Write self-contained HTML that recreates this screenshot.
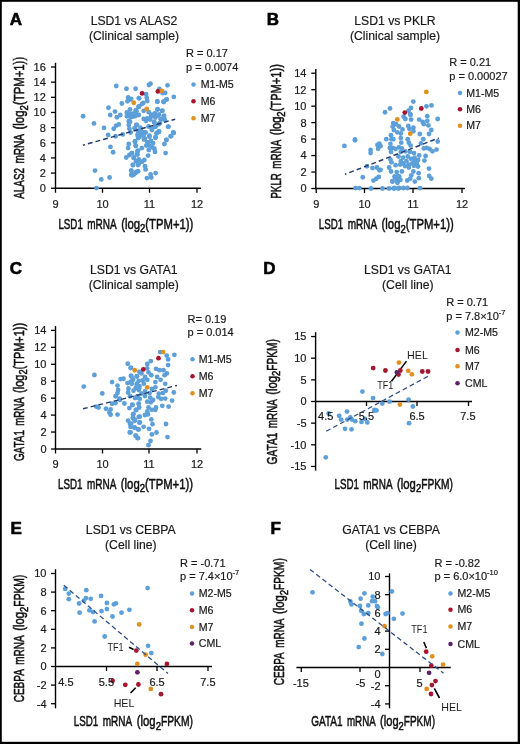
<!DOCTYPE html>
<html><head><meta charset="utf-8"><style>
html,body{margin:0;padding:0;background:#fff;}
svg{display:block;will-change:transform;}
text{font-family:"Liberation Sans", sans-serif;}
</style></head><body>
<svg width="520" height="744" viewBox="0 0 520 744">
<rect x="0" y="0" width="520" height="744" fill="#fff"/>
<line x1="55.50" y1="62.80" x2="55.50" y2="188.85" stroke="#000" stroke-width="1.4"/>
<line x1="51.00" y1="188.25" x2="55.50" y2="188.25" stroke="#000" stroke-width="1.3"/>
<line x1="51.00" y1="173.09" x2="55.50" y2="173.09" stroke="#000" stroke-width="1.3"/>
<line x1="51.00" y1="157.94" x2="55.50" y2="157.94" stroke="#000" stroke-width="1.3"/>
<line x1="51.00" y1="142.78" x2="55.50" y2="142.78" stroke="#000" stroke-width="1.3"/>
<line x1="51.00" y1="127.62" x2="55.50" y2="127.62" stroke="#000" stroke-width="1.3"/>
<line x1="51.00" y1="112.47" x2="55.50" y2="112.47" stroke="#000" stroke-width="1.3"/>
<line x1="51.00" y1="97.31" x2="55.50" y2="97.31" stroke="#000" stroke-width="1.3"/>
<line x1="51.00" y1="82.16" x2="55.50" y2="82.16" stroke="#000" stroke-width="1.3"/>
<line x1="51.00" y1="67.00" x2="55.50" y2="67.00" stroke="#000" stroke-width="1.3"/>
<line x1="54.90" y1="188.25" x2="201.00" y2="188.25" stroke="#000" stroke-width="1.4"/>
<line x1="55.50" y1="188.25" x2="55.50" y2="192.75" stroke="#000" stroke-width="1.3"/>
<line x1="102.50" y1="188.25" x2="102.50" y2="192.75" stroke="#000" stroke-width="1.3"/>
<line x1="149.50" y1="188.25" x2="149.50" y2="192.75" stroke="#000" stroke-width="1.3"/>
<line x1="197.00" y1="188.25" x2="197.00" y2="192.75" stroke="#000" stroke-width="1.3"/>
<line x1="315.80" y1="69.00" x2="315.80" y2="189.10" stroke="#000" stroke-width="1.4"/>
<line x1="311.30" y1="188.50" x2="315.80" y2="188.50" stroke="#000" stroke-width="1.3"/>
<line x1="311.30" y1="172.03" x2="315.80" y2="172.03" stroke="#000" stroke-width="1.3"/>
<line x1="311.30" y1="155.56" x2="315.80" y2="155.56" stroke="#000" stroke-width="1.3"/>
<line x1="311.30" y1="139.09" x2="315.80" y2="139.09" stroke="#000" stroke-width="1.3"/>
<line x1="311.30" y1="122.61" x2="315.80" y2="122.61" stroke="#000" stroke-width="1.3"/>
<line x1="311.30" y1="106.14" x2="315.80" y2="106.14" stroke="#000" stroke-width="1.3"/>
<line x1="311.30" y1="89.67" x2="315.80" y2="89.67" stroke="#000" stroke-width="1.3"/>
<line x1="311.30" y1="73.20" x2="315.80" y2="73.20" stroke="#000" stroke-width="1.3"/>
<line x1="314.90" y1="188.50" x2="465.00" y2="188.50" stroke="#000" stroke-width="1.4"/>
<line x1="316.25" y1="188.50" x2="316.25" y2="193.00" stroke="#000" stroke-width="1.3"/>
<line x1="364.50" y1="188.50" x2="364.50" y2="193.00" stroke="#000" stroke-width="1.3"/>
<line x1="413.00" y1="188.50" x2="413.00" y2="193.00" stroke="#000" stroke-width="1.3"/>
<line x1="462.00" y1="188.50" x2="462.00" y2="193.00" stroke="#000" stroke-width="1.3"/>
<line x1="55.50" y1="326.10" x2="55.50" y2="449.60" stroke="#000" stroke-width="1.4"/>
<line x1="51.00" y1="449.00" x2="55.50" y2="449.00" stroke="#000" stroke-width="1.3"/>
<line x1="51.00" y1="432.06" x2="55.50" y2="432.06" stroke="#000" stroke-width="1.3"/>
<line x1="51.00" y1="415.11" x2="55.50" y2="415.11" stroke="#000" stroke-width="1.3"/>
<line x1="51.00" y1="398.17" x2="55.50" y2="398.17" stroke="#000" stroke-width="1.3"/>
<line x1="51.00" y1="381.23" x2="55.50" y2="381.23" stroke="#000" stroke-width="1.3"/>
<line x1="51.00" y1="364.29" x2="55.50" y2="364.29" stroke="#000" stroke-width="1.3"/>
<line x1="51.00" y1="347.34" x2="55.50" y2="347.34" stroke="#000" stroke-width="1.3"/>
<line x1="51.00" y1="330.40" x2="55.50" y2="330.40" stroke="#000" stroke-width="1.3"/>
<line x1="54.90" y1="449.00" x2="201.25" y2="449.00" stroke="#000" stroke-width="1.4"/>
<line x1="55.50" y1="449.00" x2="55.50" y2="453.50" stroke="#000" stroke-width="1.3"/>
<line x1="102.50" y1="449.00" x2="102.50" y2="453.50" stroke="#000" stroke-width="1.3"/>
<line x1="149.00" y1="449.00" x2="149.00" y2="453.50" stroke="#000" stroke-width="1.3"/>
<line x1="197.00" y1="449.00" x2="197.00" y2="453.50" stroke="#000" stroke-width="1.3"/>
<line x1="315.60" y1="332.20" x2="315.60" y2="470.60" stroke="#000" stroke-width="1.4"/>
<line x1="311.10" y1="336.55" x2="315.60" y2="336.55" stroke="#000" stroke-width="1.3"/>
<line x1="311.10" y1="358.20" x2="315.60" y2="358.20" stroke="#000" stroke-width="1.3"/>
<line x1="311.10" y1="379.85" x2="315.60" y2="379.85" stroke="#000" stroke-width="1.3"/>
<line x1="311.10" y1="401.50" x2="315.60" y2="401.50" stroke="#000" stroke-width="1.3"/>
<line x1="311.10" y1="423.15" x2="315.60" y2="423.15" stroke="#000" stroke-width="1.3"/>
<line x1="311.10" y1="444.80" x2="315.60" y2="444.80" stroke="#000" stroke-width="1.3"/>
<line x1="311.10" y1="466.45" x2="315.60" y2="466.45" stroke="#000" stroke-width="1.3"/>
<line x1="314.90" y1="401.50" x2="472.00" y2="401.50" stroke="#000" stroke-width="1.4"/>
<line x1="366.50" y1="401.50" x2="366.50" y2="406.00" stroke="#000" stroke-width="1.3"/>
<line x1="417.00" y1="401.50" x2="417.00" y2="406.00" stroke="#000" stroke-width="1.3"/>
<line x1="468.50" y1="401.50" x2="468.50" y2="406.00" stroke="#000" stroke-width="1.3"/>
<line x1="55.50" y1="569.20" x2="55.50" y2="708.35" stroke="#000" stroke-width="1.4"/>
<line x1="51.00" y1="573.50" x2="55.50" y2="573.50" stroke="#000" stroke-width="1.3"/>
<line x1="51.00" y1="592.10" x2="55.50" y2="592.10" stroke="#000" stroke-width="1.3"/>
<line x1="51.00" y1="610.70" x2="55.50" y2="610.70" stroke="#000" stroke-width="1.3"/>
<line x1="51.00" y1="629.30" x2="55.50" y2="629.30" stroke="#000" stroke-width="1.3"/>
<line x1="51.00" y1="647.90" x2="55.50" y2="647.90" stroke="#000" stroke-width="1.3"/>
<line x1="51.00" y1="666.50" x2="55.50" y2="666.50" stroke="#000" stroke-width="1.3"/>
<line x1="51.00" y1="685.10" x2="55.50" y2="685.10" stroke="#000" stroke-width="1.3"/>
<line x1="51.00" y1="703.70" x2="55.50" y2="703.70" stroke="#000" stroke-width="1.3"/>
<line x1="54.90" y1="666.50" x2="212.00" y2="666.50" stroke="#000" stroke-width="1.4"/>
<line x1="106.50" y1="666.50" x2="106.50" y2="671.00" stroke="#000" stroke-width="1.3"/>
<line x1="157.00" y1="666.50" x2="157.00" y2="671.00" stroke="#000" stroke-width="1.3"/>
<line x1="208.00" y1="666.50" x2="208.00" y2="671.00" stroke="#000" stroke-width="1.3"/>
<line x1="389.50" y1="573.40" x2="389.50" y2="708.35" stroke="#000" stroke-width="1.4"/>
<line x1="385.00" y1="576.50" x2="389.50" y2="576.50" stroke="#000" stroke-width="1.3"/>
<line x1="385.00" y1="594.70" x2="389.50" y2="594.70" stroke="#000" stroke-width="1.3"/>
<line x1="385.00" y1="612.90" x2="389.50" y2="612.90" stroke="#000" stroke-width="1.3"/>
<line x1="385.00" y1="631.10" x2="389.50" y2="631.10" stroke="#000" stroke-width="1.3"/>
<line x1="385.00" y1="649.30" x2="389.50" y2="649.30" stroke="#000" stroke-width="1.3"/>
<line x1="385.00" y1="685.70" x2="389.50" y2="685.70" stroke="#000" stroke-width="1.3"/>
<line x1="385.00" y1="703.90" x2="389.50" y2="703.90" stroke="#000" stroke-width="1.3"/>
<line x1="296.40" y1="667.50" x2="450.75" y2="667.50" stroke="#000" stroke-width="1.4"/>
<line x1="301.25" y1="667.50" x2="301.25" y2="672.00" stroke="#000" stroke-width="1.3"/>
<line x1="360.00" y1="667.50" x2="360.00" y2="672.00" stroke="#000" stroke-width="1.3"/>
<line x1="420.00" y1="667.50" x2="420.00" y2="672.00" stroke="#000" stroke-width="1.3"/>
<line x1="406.50" y1="361.10" x2="391.50" y2="381.20" stroke="#000" stroke-width="1.5"/>
<line x1="129.00" y1="647.30" x2="133.60" y2="649.50" stroke="#000" stroke-width="1.6"/>
<line x1="130.50" y1="693.00" x2="135.70" y2="687.80" stroke="#000" stroke-width="1.6"/>
<line x1="423.80" y1="642.00" x2="426.40" y2="648.10" stroke="#000" stroke-width="1.6"/>
<line x1="434.30" y1="688.30" x2="439.50" y2="698.00" stroke="#000" stroke-width="1.6"/>
<circle cx="116.25" cy="86.00" r="2.4" fill="#5c9fd9"/>
<circle cx="126.50" cy="88.75" r="2.4" fill="#5c9fd9"/>
<circle cx="135.60" cy="88.75" r="2.4" fill="#5c9fd9"/>
<circle cx="83.10" cy="116.25" r="2.4" fill="#5c9fd9"/>
<circle cx="94.00" cy="123.40" r="2.4" fill="#5c9fd9"/>
<circle cx="104.00" cy="127.90" r="2.4" fill="#5c9fd9"/>
<circle cx="108.50" cy="107.75" r="2.4" fill="#5c9fd9"/>
<circle cx="110.25" cy="115.00" r="2.4" fill="#5c9fd9"/>
<circle cx="115.00" cy="111.60" r="2.4" fill="#5c9fd9"/>
<circle cx="116.90" cy="117.25" r="2.4" fill="#5c9fd9"/>
<circle cx="120.25" cy="115.00" r="2.4" fill="#5c9fd9"/>
<circle cx="121.90" cy="103.50" r="2.4" fill="#5c9fd9"/>
<circle cx="108.10" cy="135.00" r="2.4" fill="#5c9fd9"/>
<circle cx="115.60" cy="136.25" r="2.4" fill="#5c9fd9"/>
<circle cx="122.75" cy="134.40" r="2.4" fill="#5c9fd9"/>
<circle cx="113.75" cy="128.75" r="2.4" fill="#5c9fd9"/>
<circle cx="116.25" cy="125.60" r="2.4" fill="#5c9fd9"/>
<circle cx="118.75" cy="124.40" r="2.4" fill="#5c9fd9"/>
<circle cx="128.10" cy="97.50" r="2.4" fill="#5c9fd9"/>
<circle cx="127.50" cy="101.25" r="2.4" fill="#5c9fd9"/>
<circle cx="130.60" cy="99.40" r="2.4" fill="#5c9fd9"/>
<circle cx="138.75" cy="98.10" r="2.4" fill="#5c9fd9"/>
<circle cx="130.00" cy="109.40" r="2.4" fill="#5c9fd9"/>
<circle cx="126.90" cy="112.50" r="2.4" fill="#5c9fd9"/>
<circle cx="130.00" cy="113.75" r="2.4" fill="#5c9fd9"/>
<circle cx="126.90" cy="116.25" r="2.4" fill="#5c9fd9"/>
<circle cx="131.90" cy="116.90" r="2.4" fill="#5c9fd9"/>
<circle cx="128.75" cy="121.25" r="2.4" fill="#5c9fd9"/>
<circle cx="128.75" cy="125.00" r="2.4" fill="#5c9fd9"/>
<circle cx="129.40" cy="128.75" r="2.4" fill="#5c9fd9"/>
<circle cx="130.60" cy="132.50" r="2.4" fill="#5c9fd9"/>
<circle cx="138.75" cy="106.90" r="2.4" fill="#5c9fd9"/>
<circle cx="136.25" cy="111.25" r="2.4" fill="#5c9fd9"/>
<circle cx="135.00" cy="116.25" r="2.4" fill="#5c9fd9"/>
<circle cx="138.75" cy="115.00" r="2.4" fill="#5c9fd9"/>
<circle cx="136.25" cy="125.00" r="2.4" fill="#5c9fd9"/>
<circle cx="135.00" cy="128.10" r="2.4" fill="#5c9fd9"/>
<circle cx="138.10" cy="131.25" r="2.4" fill="#5c9fd9"/>
<circle cx="137.50" cy="135.00" r="2.4" fill="#5c9fd9"/>
<circle cx="138.10" cy="138.10" r="2.4" fill="#5c9fd9"/>
<circle cx="149.00" cy="85.00" r="2.4" fill="#5c9fd9"/>
<circle cx="146.10" cy="94.20" r="2.4" fill="#5c9fd9"/>
<circle cx="146.70" cy="97.70" r="2.4" fill="#5c9fd9"/>
<circle cx="139.20" cy="98.30" r="2.4" fill="#5c9fd9"/>
<circle cx="159.40" cy="89.00" r="2.4" fill="#5c9fd9"/>
<circle cx="165.20" cy="92.80" r="2.4" fill="#5c9fd9"/>
<circle cx="173.80" cy="96.90" r="2.4" fill="#5c9fd9"/>
<circle cx="166.70" cy="99.40" r="2.4" fill="#5c9fd9"/>
<circle cx="163.40" cy="101.70" r="2.4" fill="#5c9fd9"/>
<circle cx="157.30" cy="101.40" r="2.4" fill="#5c9fd9"/>
<circle cx="131.20" cy="98.80" r="2.4" fill="#5c9fd9"/>
<circle cx="147.30" cy="101.10" r="2.4" fill="#5c9fd9"/>
<circle cx="143.30" cy="102.90" r="2.4" fill="#5c9fd9"/>
<circle cx="139.20" cy="106.30" r="2.4" fill="#5c9fd9"/>
<circle cx="157.70" cy="109.20" r="2.4" fill="#5c9fd9"/>
<circle cx="162.30" cy="110.60" r="2.4" fill="#5c9fd9"/>
<circle cx="136.30" cy="111.00" r="2.4" fill="#5c9fd9"/>
<circle cx="136.90" cy="115.00" r="2.4" fill="#5c9fd9"/>
<circle cx="132.30" cy="113.80" r="2.4" fill="#5c9fd9"/>
<circle cx="154.80" cy="113.30" r="2.4" fill="#5c9fd9"/>
<circle cx="151.30" cy="115.00" r="2.4" fill="#5c9fd9"/>
<circle cx="157.70" cy="115.60" r="2.4" fill="#5c9fd9"/>
<circle cx="164.00" cy="115.60" r="2.4" fill="#5c9fd9"/>
<circle cx="160.60" cy="119.00" r="2.4" fill="#5c9fd9"/>
<circle cx="164.60" cy="119.60" r="2.4" fill="#5c9fd9"/>
<circle cx="147.30" cy="118.40" r="2.4" fill="#5c9fd9"/>
<circle cx="143.80" cy="119.00" r="2.4" fill="#5c9fd9"/>
<circle cx="146.10" cy="120.80" r="2.4" fill="#5c9fd9"/>
<circle cx="150.20" cy="119.60" r="2.4" fill="#5c9fd9"/>
<circle cx="154.20" cy="121.90" r="2.4" fill="#5c9fd9"/>
<circle cx="168.10" cy="126.80" r="2.4" fill="#5c9fd9"/>
<circle cx="158.80" cy="124.20" r="2.4" fill="#5c9fd9"/>
<circle cx="136.90" cy="124.80" r="2.4" fill="#5c9fd9"/>
<circle cx="134.60" cy="128.30" r="2.4" fill="#5c9fd9"/>
<circle cx="140.40" cy="127.70" r="2.4" fill="#5c9fd9"/>
<circle cx="138.10" cy="131.10" r="2.4" fill="#5c9fd9"/>
<circle cx="143.80" cy="132.30" r="2.4" fill="#5c9fd9"/>
<circle cx="148.50" cy="126.50" r="2.4" fill="#5c9fd9"/>
<circle cx="151.90" cy="128.80" r="2.4" fill="#5c9fd9"/>
<circle cx="154.80" cy="126.50" r="2.4" fill="#5c9fd9"/>
<circle cx="158.80" cy="131.70" r="2.4" fill="#5c9fd9"/>
<circle cx="156.50" cy="133.40" r="2.4" fill="#5c9fd9"/>
<circle cx="173.30" cy="132.30" r="2.4" fill="#5c9fd9"/>
<circle cx="130.00" cy="121.90" r="2.4" fill="#5c9fd9"/>
<circle cx="130.60" cy="117.30" r="2.4" fill="#5c9fd9"/>
<circle cx="110.40" cy="146.90" r="2.4" fill="#5c9fd9"/>
<circle cx="113.10" cy="152.25" r="2.4" fill="#5c9fd9"/>
<circle cx="95.00" cy="170.60" r="2.4" fill="#5c9fd9"/>
<circle cx="101.25" cy="179.40" r="2.4" fill="#5c9fd9"/>
<circle cx="109.60" cy="177.50" r="2.4" fill="#5c9fd9"/>
<circle cx="96.50" cy="188.10" r="2.4" fill="#5c9fd9"/>
<circle cx="135.00" cy="141.25" r="2.4" fill="#5c9fd9"/>
<circle cx="128.75" cy="144.00" r="2.4" fill="#5c9fd9"/>
<circle cx="128.10" cy="148.10" r="2.4" fill="#5c9fd9"/>
<circle cx="135.90" cy="146.00" r="2.4" fill="#5c9fd9"/>
<circle cx="138.10" cy="136.90" r="2.4" fill="#5c9fd9"/>
<circle cx="126.25" cy="157.50" r="2.4" fill="#5c9fd9"/>
<circle cx="129.40" cy="155.00" r="2.4" fill="#5c9fd9"/>
<circle cx="131.90" cy="153.10" r="2.4" fill="#5c9fd9"/>
<circle cx="137.50" cy="151.25" r="2.4" fill="#5c9fd9"/>
<circle cx="136.90" cy="154.40" r="2.4" fill="#5c9fd9"/>
<circle cx="133.75" cy="158.10" r="2.4" fill="#5c9fd9"/>
<circle cx="136.25" cy="161.25" r="2.4" fill="#5c9fd9"/>
<circle cx="138.75" cy="163.75" r="2.4" fill="#5c9fd9"/>
<circle cx="132.75" cy="165.00" r="2.4" fill="#5c9fd9"/>
<circle cx="131.25" cy="170.60" r="2.4" fill="#5c9fd9"/>
<circle cx="132.50" cy="175.25" r="2.4" fill="#5c9fd9"/>
<circle cx="135.60" cy="173.10" r="2.4" fill="#5c9fd9"/>
<circle cx="138.10" cy="171.25" r="2.4" fill="#5c9fd9"/>
<circle cx="138.75" cy="159.40" r="2.4" fill="#5c9fd9"/>
<circle cx="170.60" cy="136.25" r="2.4" fill="#5c9fd9"/>
<circle cx="166.50" cy="140.00" r="2.4" fill="#5c9fd9"/>
<circle cx="164.40" cy="144.00" r="2.4" fill="#5c9fd9"/>
<circle cx="165.60" cy="153.10" r="2.4" fill="#5c9fd9"/>
<circle cx="155.60" cy="137.50" r="2.4" fill="#5c9fd9"/>
<circle cx="158.75" cy="131.90" r="2.4" fill="#5c9fd9"/>
<circle cx="151.90" cy="130.00" r="2.4" fill="#5c9fd9"/>
<circle cx="135.00" cy="141.90" r="2.4" fill="#5c9fd9"/>
<circle cx="135.60" cy="145.60" r="2.4" fill="#5c9fd9"/>
<circle cx="141.90" cy="148.10" r="2.4" fill="#5c9fd9"/>
<circle cx="138.10" cy="150.60" r="2.4" fill="#5c9fd9"/>
<circle cx="137.50" cy="154.40" r="2.4" fill="#5c9fd9"/>
<circle cx="131.90" cy="153.10" r="2.4" fill="#5c9fd9"/>
<circle cx="148.10" cy="155.60" r="2.4" fill="#5c9fd9"/>
<circle cx="148.75" cy="150.00" r="2.4" fill="#5c9fd9"/>
<circle cx="154.40" cy="148.75" r="2.4" fill="#5c9fd9"/>
<circle cx="155.00" cy="151.90" r="2.4" fill="#5c9fd9"/>
<circle cx="152.50" cy="147.50" r="2.4" fill="#5c9fd9"/>
<circle cx="147.50" cy="142.50" r="2.4" fill="#5c9fd9"/>
<circle cx="146.25" cy="145.60" r="2.4" fill="#5c9fd9"/>
<circle cx="153.10" cy="143.10" r="2.4" fill="#5c9fd9"/>
<circle cx="145.00" cy="138.75" r="2.4" fill="#5c9fd9"/>
<circle cx="140.00" cy="135.00" r="2.4" fill="#5c9fd9"/>
<circle cx="141.25" cy="131.25" r="2.4" fill="#5c9fd9"/>
<circle cx="145.60" cy="132.50" r="2.4" fill="#5c9fd9"/>
<circle cx="149.40" cy="135.60" r="2.4" fill="#5c9fd9"/>
<circle cx="133.75" cy="157.50" r="2.4" fill="#5c9fd9"/>
<circle cx="136.25" cy="161.25" r="2.4" fill="#5c9fd9"/>
<circle cx="139.40" cy="160.60" r="2.4" fill="#5c9fd9"/>
<circle cx="141.90" cy="161.90" r="2.4" fill="#5c9fd9"/>
<circle cx="144.40" cy="160.00" r="2.4" fill="#5c9fd9"/>
<circle cx="138.10" cy="165.00" r="2.4" fill="#5c9fd9"/>
<circle cx="133.10" cy="165.00" r="2.4" fill="#5c9fd9"/>
<circle cx="145.00" cy="166.25" r="2.4" fill="#5c9fd9"/>
<circle cx="145.60" cy="169.40" r="2.4" fill="#5c9fd9"/>
<circle cx="131.25" cy="170.60" r="2.4" fill="#5c9fd9"/>
<circle cx="136.25" cy="171.90" r="2.4" fill="#5c9fd9"/>
<circle cx="133.75" cy="174.40" r="2.4" fill="#5c9fd9"/>
<circle cx="131.25" cy="175.00" r="2.4" fill="#5c9fd9"/>
<circle cx="155.60" cy="173.10" r="2.4" fill="#5c9fd9"/>
<circle cx="150.60" cy="174.40" r="2.4" fill="#5c9fd9"/>
<circle cx="151.25" cy="177.50" r="2.4" fill="#5c9fd9"/>
<circle cx="146.90" cy="178.10" r="2.4" fill="#5c9fd9"/>
<circle cx="167.50" cy="85.30" r="2.4" fill="#5c9fd9"/>
<circle cx="150.50" cy="83.70" r="2.4" fill="#5c9fd9"/>
<circle cx="162.70" cy="93.20" r="2.4" fill="#5c9fd9"/>
<circle cx="166.40" cy="99.60" r="2.4" fill="#5c9fd9"/>
<circle cx="163.80" cy="102.00" r="2.4" fill="#5c9fd9"/>
<circle cx="157.40" cy="101.70" r="2.4" fill="#5c9fd9"/>
<circle cx="157.40" cy="109.60" r="2.4" fill="#5c9fd9"/>
<circle cx="162.20" cy="110.90" r="2.4" fill="#5c9fd9"/>
<circle cx="154.20" cy="114.40" r="2.4" fill="#5c9fd9"/>
<circle cx="159.00" cy="114.40" r="2.4" fill="#5c9fd9"/>
<circle cx="163.80" cy="116.50" r="2.4" fill="#5c9fd9"/>
<circle cx="151.10" cy="116.50" r="2.4" fill="#5c9fd9"/>
<circle cx="155.30" cy="117.60" r="2.4" fill="#5c9fd9"/>
<circle cx="161.60" cy="119.20" r="2.4" fill="#5c9fd9"/>
<circle cx="164.30" cy="119.20" r="2.4" fill="#5c9fd9"/>
<circle cx="154.20" cy="122.30" r="2.4" fill="#5c9fd9"/>
<circle cx="160.00" cy="122.90" r="2.4" fill="#5c9fd9"/>
<circle cx="168.50" cy="126.60" r="2.4" fill="#5c9fd9"/>
<circle cx="155.80" cy="126.60" r="2.4" fill="#5c9fd9"/>
<circle cx="152.10" cy="128.70" r="2.4" fill="#5c9fd9"/>
<circle cx="159.00" cy="131.30" r="2.4" fill="#5c9fd9"/>
<circle cx="156.90" cy="132.90" r="2.4" fill="#5c9fd9"/>
<circle cx="173.80" cy="132.90" r="2.4" fill="#5c9fd9"/>
<circle cx="171.20" cy="136.10" r="2.4" fill="#5c9fd9"/>
<circle cx="155.30" cy="137.70" r="2.4" fill="#5c9fd9"/>
<circle cx="166.40" cy="139.80" r="2.4" fill="#5c9fd9"/>
<circle cx="147.50" cy="142.50" r="2.4" fill="#5c9fd9"/>
<circle cx="149.50" cy="145.60" r="2.4" fill="#5c9fd9"/>
<circle cx="151.00" cy="141.00" r="2.4" fill="#5c9fd9"/>
<circle cx="144.00" cy="139.50" r="2.4" fill="#5c9fd9"/>
<circle cx="143.50" cy="135.80" r="2.4" fill="#5c9fd9"/>
<circle cx="149.50" cy="136.80" r="2.4" fill="#5c9fd9"/>
<circle cx="139.50" cy="137.00" r="2.4" fill="#5c9fd9"/>
<circle cx="142.10" cy="103.80" r="2.4" fill="#5c9fd9"/>
<circle cx="138.60" cy="106.70" r="2.4" fill="#5c9fd9"/>
<circle cx="135.80" cy="110.20" r="2.4" fill="#5c9fd9"/>
<circle cx="133.50" cy="113.70" r="2.4" fill="#5c9fd9"/>
<circle cx="143.60" cy="110.80" r="2.4" fill="#5c9fd9"/>
<circle cx="148.80" cy="112.20" r="2.4" fill="#5c9fd9"/>
<circle cx="133.75" cy="102.75" r="2.4" fill="#e0901f"/>
<circle cx="146.70" cy="109.00" r="2.4" fill="#e0901f"/>
<circle cx="157.90" cy="91.40" r="2.4" fill="#a5162e"/>
<circle cx="142.10" cy="93.40" r="2.4" fill="#a5162e"/>
<circle cx="161.90" cy="90.90" r="2.4" fill="#e0901f"/>
<circle cx="390.00" cy="108.40" r="2.4" fill="#5c9fd9"/>
<circle cx="385.00" cy="112.25" r="2.4" fill="#5c9fd9"/>
<circle cx="355.00" cy="139.40" r="2.4" fill="#5c9fd9"/>
<circle cx="413.30" cy="101.60" r="2.4" fill="#5c9fd9"/>
<circle cx="411.00" cy="107.90" r="2.4" fill="#5c9fd9"/>
<circle cx="408.60" cy="110.60" r="2.4" fill="#5c9fd9"/>
<circle cx="410.10" cy="114.00" r="2.4" fill="#5c9fd9"/>
<circle cx="426.50" cy="106.30" r="2.4" fill="#5c9fd9"/>
<circle cx="431.50" cy="105.40" r="2.4" fill="#5c9fd9"/>
<circle cx="344.40" cy="145.90" r="2.4" fill="#5c9fd9"/>
<circle cx="355.00" cy="140.25" r="2.4" fill="#5c9fd9"/>
<circle cx="370.60" cy="150.00" r="2.4" fill="#5c9fd9"/>
<circle cx="370.60" cy="153.10" r="2.4" fill="#5c9fd9"/>
<circle cx="377.50" cy="145.00" r="2.4" fill="#5c9fd9"/>
<circle cx="379.40" cy="143.75" r="2.4" fill="#5c9fd9"/>
<circle cx="378.10" cy="148.75" r="2.4" fill="#5c9fd9"/>
<circle cx="366.90" cy="166.25" r="2.4" fill="#5c9fd9"/>
<circle cx="372.50" cy="168.10" r="2.4" fill="#5c9fd9"/>
<circle cx="376.90" cy="167.50" r="2.4" fill="#5c9fd9"/>
<circle cx="379.40" cy="170.25" r="2.4" fill="#5c9fd9"/>
<circle cx="378.75" cy="176.90" r="2.4" fill="#5c9fd9"/>
<circle cx="376.25" cy="178.75" r="2.4" fill="#5c9fd9"/>
<circle cx="373.40" cy="180.60" r="2.4" fill="#5c9fd9"/>
<circle cx="362.75" cy="177.25" r="2.4" fill="#5c9fd9"/>
<circle cx="395.00" cy="177.50" r="2.4" fill="#5c9fd9"/>
<circle cx="398.10" cy="176.25" r="2.4" fill="#5c9fd9"/>
<circle cx="392.50" cy="181.25" r="2.4" fill="#5c9fd9"/>
<circle cx="397.50" cy="181.25" r="2.4" fill="#5c9fd9"/>
<circle cx="355.60" cy="188.10" r="2.4" fill="#5c9fd9"/>
<circle cx="359.40" cy="188.10" r="2.4" fill="#5c9fd9"/>
<circle cx="371.00" cy="188.50" r="2.4" fill="#5c9fd9"/>
<circle cx="382.50" cy="188.50" r="2.4" fill="#5c9fd9"/>
<circle cx="389.00" cy="188.50" r="2.4" fill="#5c9fd9"/>
<circle cx="393.75" cy="188.50" r="2.4" fill="#5c9fd9"/>
<circle cx="398.10" cy="188.50" r="2.4" fill="#5c9fd9"/>
<circle cx="429.20" cy="175.90" r="2.4" fill="#5c9fd9"/>
<circle cx="431.30" cy="178.70" r="2.4" fill="#5c9fd9"/>
<circle cx="418.80" cy="178.20" r="2.4" fill="#5c9fd9"/>
<circle cx="414.80" cy="181.60" r="2.4" fill="#5c9fd9"/>
<circle cx="411.30" cy="175.30" r="2.4" fill="#5c9fd9"/>
<circle cx="410.20" cy="178.70" r="2.4" fill="#5c9fd9"/>
<circle cx="407.30" cy="180.50" r="2.4" fill="#5c9fd9"/>
<circle cx="394.60" cy="176.40" r="2.4" fill="#5c9fd9"/>
<circle cx="399.20" cy="176.40" r="2.4" fill="#5c9fd9"/>
<circle cx="396.90" cy="179.90" r="2.4" fill="#5c9fd9"/>
<circle cx="400.40" cy="179.90" r="2.4" fill="#5c9fd9"/>
<circle cx="392.30" cy="181.60" r="2.4" fill="#5c9fd9"/>
<circle cx="397.50" cy="182.80" r="2.4" fill="#5c9fd9"/>
<circle cx="394.60" cy="188.00" r="2.4" fill="#5c9fd9"/>
<circle cx="399.20" cy="188.00" r="2.4" fill="#5c9fd9"/>
<circle cx="403.30" cy="188.00" r="2.4" fill="#5c9fd9"/>
<circle cx="407.30" cy="188.00" r="2.4" fill="#5c9fd9"/>
<circle cx="420.00" cy="188.20" r="2.4" fill="#5c9fd9"/>
<circle cx="403.60" cy="116.70" r="2.4" fill="#5c9fd9"/>
<circle cx="405.40" cy="119.00" r="2.4" fill="#5c9fd9"/>
<circle cx="410.60" cy="115.00" r="2.4" fill="#5c9fd9"/>
<circle cx="411.10" cy="119.60" r="2.4" fill="#5c9fd9"/>
<circle cx="419.20" cy="119.60" r="2.4" fill="#5c9fd9"/>
<circle cx="422.70" cy="121.90" r="2.4" fill="#5c9fd9"/>
<circle cx="423.80" cy="124.20" r="2.4" fill="#5c9fd9"/>
<circle cx="427.30" cy="116.20" r="2.4" fill="#5c9fd9"/>
<circle cx="427.30" cy="120.80" r="2.4" fill="#5c9fd9"/>
<circle cx="428.40" cy="125.40" r="2.4" fill="#5c9fd9"/>
<circle cx="431.30" cy="130.00" r="2.4" fill="#5c9fd9"/>
<circle cx="429.00" cy="134.00" r="2.4" fill="#5c9fd9"/>
<circle cx="437.70" cy="119.00" r="2.4" fill="#5c9fd9"/>
<circle cx="393.30" cy="123.10" r="2.4" fill="#5c9fd9"/>
<circle cx="392.70" cy="126.50" r="2.4" fill="#5c9fd9"/>
<circle cx="393.80" cy="130.00" r="2.4" fill="#5c9fd9"/>
<circle cx="397.30" cy="132.30" r="2.4" fill="#5c9fd9"/>
<circle cx="400.80" cy="133.50" r="2.4" fill="#5c9fd9"/>
<circle cx="402.50" cy="129.40" r="2.4" fill="#5c9fd9"/>
<circle cx="399.00" cy="126.50" r="2.4" fill="#5c9fd9"/>
<circle cx="396.10" cy="124.20" r="2.4" fill="#5c9fd9"/>
<circle cx="408.30" cy="126.00" r="2.4" fill="#5c9fd9"/>
<circle cx="409.40" cy="128.80" r="2.4" fill="#5c9fd9"/>
<circle cx="413.40" cy="127.70" r="2.4" fill="#5c9fd9"/>
<circle cx="413.40" cy="131.20" r="2.4" fill="#5c9fd9"/>
<circle cx="419.80" cy="134.00" r="2.4" fill="#5c9fd9"/>
<circle cx="423.30" cy="139.20" r="2.4" fill="#5c9fd9"/>
<circle cx="391.00" cy="135.20" r="2.4" fill="#5c9fd9"/>
<circle cx="386.30" cy="139.20" r="2.4" fill="#5c9fd9"/>
<circle cx="391.50" cy="139.20" r="2.4" fill="#5c9fd9"/>
<circle cx="393.30" cy="139.20" r="2.4" fill="#5c9fd9"/>
<circle cx="400.80" cy="138.10" r="2.4" fill="#5c9fd9"/>
<circle cx="401.30" cy="142.70" r="2.4" fill="#5c9fd9"/>
<circle cx="407.70" cy="139.20" r="2.4" fill="#5c9fd9"/>
<circle cx="408.80" cy="142.70" r="2.4" fill="#5c9fd9"/>
<circle cx="410.60" cy="145.60" r="2.4" fill="#5c9fd9"/>
<circle cx="380.60" cy="146.10" r="2.4" fill="#5c9fd9"/>
<circle cx="390.40" cy="143.80" r="2.4" fill="#5c9fd9"/>
<circle cx="389.80" cy="147.90" r="2.4" fill="#5c9fd9"/>
<circle cx="392.70" cy="147.90" r="2.4" fill="#5c9fd9"/>
<circle cx="391.00" cy="151.90" r="2.4" fill="#5c9fd9"/>
<circle cx="395.60" cy="149.00" r="2.4" fill="#5c9fd9"/>
<circle cx="399.00" cy="147.30" r="2.4" fill="#5c9fd9"/>
<circle cx="401.90" cy="148.40" r="2.4" fill="#5c9fd9"/>
<circle cx="421.00" cy="143.30" r="2.4" fill="#5c9fd9"/>
<circle cx="437.70" cy="141.50" r="2.4" fill="#5c9fd9"/>
<circle cx="423.80" cy="148.40" r="2.4" fill="#5c9fd9"/>
<circle cx="426.70" cy="147.90" r="2.4" fill="#5c9fd9"/>
<circle cx="429.60" cy="149.00" r="2.4" fill="#5c9fd9"/>
<circle cx="432.50" cy="151.30" r="2.4" fill="#5c9fd9"/>
<circle cx="436.50" cy="149.60" r="2.4" fill="#5c9fd9"/>
<circle cx="400.80" cy="151.90" r="2.4" fill="#5c9fd9"/>
<circle cx="405.40" cy="151.30" r="2.4" fill="#5c9fd9"/>
<circle cx="410.00" cy="151.90" r="2.4" fill="#5c9fd9"/>
<circle cx="414.00" cy="153.10" r="2.4" fill="#5c9fd9"/>
<circle cx="398.50" cy="156.50" r="2.4" fill="#5c9fd9"/>
<circle cx="403.10" cy="157.70" r="2.4" fill="#5c9fd9"/>
<circle cx="400.80" cy="161.10" r="2.4" fill="#5c9fd9"/>
<circle cx="403.10" cy="163.40" r="2.4" fill="#5c9fd9"/>
<circle cx="411.10" cy="158.80" r="2.4" fill="#5c9fd9"/>
<circle cx="414.60" cy="161.10" r="2.4" fill="#5c9fd9"/>
<circle cx="412.30" cy="163.40" r="2.4" fill="#5c9fd9"/>
<circle cx="418.10" cy="160.00" r="2.4" fill="#5c9fd9"/>
<circle cx="416.90" cy="163.40" r="2.4" fill="#5c9fd9"/>
<circle cx="419.20" cy="155.40" r="2.4" fill="#5c9fd9"/>
<circle cx="414.00" cy="165.80" r="2.4" fill="#5c9fd9"/>
<circle cx="425.60" cy="156.00" r="2.4" fill="#5c9fd9"/>
<circle cx="424.40" cy="160.60" r="2.4" fill="#5c9fd9"/>
<circle cx="390.40" cy="159.40" r="2.4" fill="#5c9fd9"/>
<circle cx="391.50" cy="162.30" r="2.4" fill="#5c9fd9"/>
<circle cx="395.60" cy="165.20" r="2.4" fill="#5c9fd9"/>
<circle cx="389.20" cy="167.50" r="2.4" fill="#5c9fd9"/>
<circle cx="391.00" cy="171.50" r="2.4" fill="#5c9fd9"/>
<circle cx="396.70" cy="172.10" r="2.4" fill="#5c9fd9"/>
<circle cx="401.90" cy="171.50" r="2.4" fill="#5c9fd9"/>
<circle cx="408.80" cy="167.50" r="2.4" fill="#5c9fd9"/>
<circle cx="413.40" cy="171.50" r="2.4" fill="#5c9fd9"/>
<circle cx="429.00" cy="168.60" r="2.4" fill="#5c9fd9"/>
<circle cx="418.60" cy="173.20" r="2.4" fill="#5c9fd9"/>
<circle cx="380.60" cy="169.80" r="2.4" fill="#5c9fd9"/>
<circle cx="406.50" cy="161.10" r="2.4" fill="#5c9fd9"/>
<circle cx="408.80" cy="164.60" r="2.4" fill="#5c9fd9"/>
<circle cx="407.70" cy="156.50" r="2.4" fill="#5c9fd9"/>
<circle cx="400.20" cy="164.60" r="2.4" fill="#5c9fd9"/>
<circle cx="414.60" cy="157.70" r="2.4" fill="#5c9fd9"/>
<circle cx="405.00" cy="166.00" r="2.4" fill="#5c9fd9"/>
<circle cx="418.00" cy="166.50" r="2.4" fill="#5c9fd9"/>
<circle cx="426.30" cy="91.90" r="2.4" fill="#e0901f"/>
<circle cx="404.80" cy="112.60" r="2.4" fill="#a5162e"/>
<circle cx="421.30" cy="108.50" r="2.4" fill="#a5162e"/>
<circle cx="397.30" cy="119.40" r="2.4" fill="#e0901f"/>
<circle cx="410.20" cy="133.70" r="2.4" fill="#e0901f"/>
<circle cx="83.75" cy="386.60" r="2.4" fill="#5c9fd9"/>
<circle cx="94.40" cy="375.00" r="2.4" fill="#5c9fd9"/>
<circle cx="102.25" cy="393.40" r="2.4" fill="#5c9fd9"/>
<circle cx="112.10" cy="382.10" r="2.4" fill="#5c9fd9"/>
<circle cx="120.60" cy="379.10" r="2.4" fill="#5c9fd9"/>
<circle cx="123.50" cy="378.75" r="2.4" fill="#5c9fd9"/>
<circle cx="127.75" cy="363.75" r="2.4" fill="#5c9fd9"/>
<circle cx="130.60" cy="368.10" r="2.4" fill="#5c9fd9"/>
<circle cx="139.40" cy="371.90" r="2.4" fill="#5c9fd9"/>
<circle cx="131.00" cy="375.60" r="2.4" fill="#5c9fd9"/>
<circle cx="136.90" cy="376.25" r="2.4" fill="#5c9fd9"/>
<circle cx="133.10" cy="379.40" r="2.4" fill="#5c9fd9"/>
<circle cx="127.50" cy="383.10" r="2.4" fill="#5c9fd9"/>
<circle cx="130.60" cy="381.90" r="2.4" fill="#5c9fd9"/>
<circle cx="117.50" cy="385.60" r="2.4" fill="#5c9fd9"/>
<circle cx="118.10" cy="390.00" r="2.4" fill="#5c9fd9"/>
<circle cx="117.50" cy="393.10" r="2.4" fill="#5c9fd9"/>
<circle cx="115.60" cy="396.25" r="2.4" fill="#5c9fd9"/>
<circle cx="119.40" cy="398.75" r="2.4" fill="#5c9fd9"/>
<circle cx="128.50" cy="388.50" r="2.4" fill="#5c9fd9"/>
<circle cx="128.10" cy="392.50" r="2.4" fill="#5c9fd9"/>
<circle cx="130.00" cy="396.25" r="2.4" fill="#5c9fd9"/>
<circle cx="136.90" cy="383.75" r="2.4" fill="#5c9fd9"/>
<circle cx="136.25" cy="387.50" r="2.4" fill="#5c9fd9"/>
<circle cx="139.40" cy="386.25" r="2.4" fill="#5c9fd9"/>
<circle cx="138.75" cy="390.00" r="2.4" fill="#5c9fd9"/>
<circle cx="137.50" cy="396.25" r="2.4" fill="#5c9fd9"/>
<circle cx="135.00" cy="398.10" r="2.4" fill="#5c9fd9"/>
<circle cx="160.20" cy="352.10" r="2.4" fill="#5c9fd9"/>
<circle cx="174.40" cy="354.80" r="2.4" fill="#5c9fd9"/>
<circle cx="166.70" cy="355.60" r="2.4" fill="#5c9fd9"/>
<circle cx="168.10" cy="359.40" r="2.4" fill="#5c9fd9"/>
<circle cx="150.80" cy="361.10" r="2.4" fill="#5c9fd9"/>
<circle cx="147.30" cy="364.00" r="2.4" fill="#5c9fd9"/>
<circle cx="168.10" cy="365.10" r="2.4" fill="#5c9fd9"/>
<circle cx="130.90" cy="367.70" r="2.4" fill="#5c9fd9"/>
<circle cx="147.10" cy="368.30" r="2.4" fill="#5c9fd9"/>
<circle cx="156.00" cy="368.80" r="2.4" fill="#5c9fd9"/>
<circle cx="159.40" cy="370.20" r="2.4" fill="#5c9fd9"/>
<circle cx="163.40" cy="370.20" r="2.4" fill="#5c9fd9"/>
<circle cx="166.90" cy="373.40" r="2.4" fill="#5c9fd9"/>
<circle cx="164.60" cy="375.20" r="2.4" fill="#5c9fd9"/>
<circle cx="148.50" cy="372.30" r="2.4" fill="#5c9fd9"/>
<circle cx="151.30" cy="375.20" r="2.4" fill="#5c9fd9"/>
<circle cx="141.50" cy="373.40" r="2.4" fill="#5c9fd9"/>
<circle cx="136.90" cy="376.30" r="2.4" fill="#5c9fd9"/>
<circle cx="131.20" cy="376.30" r="2.4" fill="#5c9fd9"/>
<circle cx="157.10" cy="376.90" r="2.4" fill="#5c9fd9"/>
<circle cx="160.60" cy="379.80" r="2.4" fill="#5c9fd9"/>
<circle cx="145.00" cy="376.90" r="2.4" fill="#5c9fd9"/>
<circle cx="147.30" cy="379.80" r="2.4" fill="#5c9fd9"/>
<circle cx="142.70" cy="380.40" r="2.4" fill="#5c9fd9"/>
<circle cx="138.70" cy="380.90" r="2.4" fill="#5c9fd9"/>
<circle cx="132.30" cy="380.40" r="2.4" fill="#5c9fd9"/>
<circle cx="131.70" cy="383.80" r="2.4" fill="#5c9fd9"/>
<circle cx="136.90" cy="384.40" r="2.4" fill="#5c9fd9"/>
<circle cx="143.80" cy="383.80" r="2.4" fill="#5c9fd9"/>
<circle cx="155.40" cy="382.10" r="2.4" fill="#5c9fd9"/>
<circle cx="165.20" cy="383.80" r="2.4" fill="#5c9fd9"/>
<circle cx="155.40" cy="387.30" r="2.4" fill="#5c9fd9"/>
<circle cx="151.90" cy="389.00" r="2.4" fill="#5c9fd9"/>
<circle cx="139.20" cy="388.40" r="2.4" fill="#5c9fd9"/>
<circle cx="135.80" cy="387.90" r="2.4" fill="#5c9fd9"/>
<circle cx="165.80" cy="390.70" r="2.4" fill="#5c9fd9"/>
<circle cx="173.80" cy="392.50" r="2.4" fill="#5c9fd9"/>
<circle cx="162.90" cy="393.10" r="2.4" fill="#5c9fd9"/>
<circle cx="158.80" cy="393.60" r="2.4" fill="#5c9fd9"/>
<circle cx="149.60" cy="393.10" r="2.4" fill="#5c9fd9"/>
<circle cx="145.00" cy="391.30" r="2.4" fill="#5c9fd9"/>
<circle cx="141.50" cy="393.60" r="2.4" fill="#5c9fd9"/>
<circle cx="133.50" cy="390.70" r="2.4" fill="#5c9fd9"/>
<circle cx="96.25" cy="406.60" r="2.4" fill="#5c9fd9"/>
<circle cx="98.50" cy="407.50" r="2.4" fill="#5c9fd9"/>
<circle cx="106.00" cy="408.75" r="2.4" fill="#5c9fd9"/>
<circle cx="110.60" cy="409.40" r="2.4" fill="#5c9fd9"/>
<circle cx="109.40" cy="412.50" r="2.4" fill="#5c9fd9"/>
<circle cx="110.60" cy="414.75" r="2.4" fill="#5c9fd9"/>
<circle cx="117.50" cy="414.60" r="2.4" fill="#5c9fd9"/>
<circle cx="112.10" cy="403.75" r="2.4" fill="#5c9fd9"/>
<circle cx="115.60" cy="403.10" r="2.4" fill="#5c9fd9"/>
<circle cx="120.00" cy="399.75" r="2.4" fill="#5c9fd9"/>
<circle cx="124.40" cy="403.50" r="2.4" fill="#5c9fd9"/>
<circle cx="129.40" cy="408.10" r="2.4" fill="#5c9fd9"/>
<circle cx="132.50" cy="405.00" r="2.4" fill="#5c9fd9"/>
<circle cx="136.25" cy="397.50" r="2.4" fill="#5c9fd9"/>
<circle cx="138.75" cy="403.75" r="2.4" fill="#5c9fd9"/>
<circle cx="136.25" cy="410.00" r="2.4" fill="#5c9fd9"/>
<circle cx="133.10" cy="414.40" r="2.4" fill="#5c9fd9"/>
<circle cx="133.10" cy="417.50" r="2.4" fill="#5c9fd9"/>
<circle cx="135.00" cy="420.00" r="2.4" fill="#5c9fd9"/>
<circle cx="138.75" cy="416.90" r="2.4" fill="#5c9fd9"/>
<circle cx="128.10" cy="420.60" r="2.4" fill="#5c9fd9"/>
<circle cx="130.00" cy="423.75" r="2.4" fill="#5c9fd9"/>
<circle cx="130.60" cy="426.90" r="2.4" fill="#5c9fd9"/>
<circle cx="134.40" cy="427.50" r="2.4" fill="#5c9fd9"/>
<circle cx="138.10" cy="429.40" r="2.4" fill="#5c9fd9"/>
<circle cx="139.40" cy="422.50" r="2.4" fill="#5c9fd9"/>
<circle cx="129.75" cy="432.50" r="2.4" fill="#5c9fd9"/>
<circle cx="135.60" cy="435.60" r="2.4" fill="#5c9fd9"/>
<circle cx="137.50" cy="438.10" r="2.4" fill="#5c9fd9"/>
<circle cx="145.00" cy="396.00" r="2.4" fill="#5c9fd9"/>
<circle cx="135.80" cy="397.70" r="2.4" fill="#5c9fd9"/>
<circle cx="139.80" cy="398.80" r="2.4" fill="#5c9fd9"/>
<circle cx="150.20" cy="397.70" r="2.4" fill="#5c9fd9"/>
<circle cx="153.10" cy="400.00" r="2.4" fill="#5c9fd9"/>
<circle cx="158.30" cy="397.10" r="2.4" fill="#5c9fd9"/>
<circle cx="161.10" cy="398.80" r="2.4" fill="#5c9fd9"/>
<circle cx="165.20" cy="398.60" r="2.4" fill="#5c9fd9"/>
<circle cx="172.10" cy="400.60" r="2.4" fill="#5c9fd9"/>
<circle cx="147.30" cy="401.70" r="2.4" fill="#5c9fd9"/>
<circle cx="150.80" cy="402.30" r="2.4" fill="#5c9fd9"/>
<circle cx="138.70" cy="404.00" r="2.4" fill="#5c9fd9"/>
<circle cx="132.30" cy="404.60" r="2.4" fill="#5c9fd9"/>
<circle cx="139.20" cy="407.50" r="2.4" fill="#5c9fd9"/>
<circle cx="135.80" cy="409.80" r="2.4" fill="#5c9fd9"/>
<circle cx="148.50" cy="407.50" r="2.4" fill="#5c9fd9"/>
<circle cx="156.00" cy="407.50" r="2.4" fill="#5c9fd9"/>
<circle cx="151.90" cy="409.80" r="2.4" fill="#5c9fd9"/>
<circle cx="155.40" cy="409.80" r="2.4" fill="#5c9fd9"/>
<circle cx="162.30" cy="405.80" r="2.4" fill="#5c9fd9"/>
<circle cx="168.60" cy="406.60" r="2.4" fill="#5c9fd9"/>
<circle cx="147.30" cy="411.50" r="2.4" fill="#5c9fd9"/>
<circle cx="145.00" cy="415.00" r="2.4" fill="#5c9fd9"/>
<circle cx="147.90" cy="414.40" r="2.4" fill="#5c9fd9"/>
<circle cx="133.50" cy="413.80" r="2.4" fill="#5c9fd9"/>
<circle cx="139.80" cy="416.70" r="2.4" fill="#5c9fd9"/>
<circle cx="132.90" cy="417.90" r="2.4" fill="#5c9fd9"/>
<circle cx="134.60" cy="420.80" r="2.4" fill="#5c9fd9"/>
<circle cx="131.20" cy="423.60" r="2.4" fill="#5c9fd9"/>
<circle cx="139.80" cy="422.50" r="2.4" fill="#5c9fd9"/>
<circle cx="151.30" cy="419.40" r="2.4" fill="#5c9fd9"/>
<circle cx="152.50" cy="424.20" r="2.4" fill="#5c9fd9"/>
<circle cx="166.00" cy="424.00" r="2.4" fill="#5c9fd9"/>
<circle cx="143.60" cy="426.80" r="2.4" fill="#5c9fd9"/>
<circle cx="134.60" cy="427.70" r="2.4" fill="#5c9fd9"/>
<circle cx="138.70" cy="429.40" r="2.4" fill="#5c9fd9"/>
<circle cx="149.00" cy="428.80" r="2.4" fill="#5c9fd9"/>
<circle cx="130.60" cy="432.30" r="2.4" fill="#5c9fd9"/>
<circle cx="135.80" cy="435.70" r="2.4" fill="#5c9fd9"/>
<circle cx="138.10" cy="438.10" r="2.4" fill="#5c9fd9"/>
<circle cx="156.50" cy="432.50" r="2.4" fill="#5c9fd9"/>
<circle cx="151.90" cy="434.40" r="2.4" fill="#5c9fd9"/>
<circle cx="167.50" cy="437.10" r="2.4" fill="#5c9fd9"/>
<circle cx="150.50" cy="441.00" r="2.4" fill="#5c9fd9"/>
<circle cx="148.50" cy="445.20" r="2.4" fill="#5c9fd9"/>
<circle cx="134.75" cy="370.25" r="2.4" fill="#e0901f"/>
<circle cx="163.10" cy="352.10" r="2.4" fill="#e0901f"/>
<circle cx="147.30" cy="387.30" r="2.4" fill="#e0901f"/>
<circle cx="158.50" cy="358.20" r="2.4" fill="#a5162e"/>
<circle cx="143.30" cy="369.40" r="2.4" fill="#a5162e"/>
<circle cx="362.40" cy="391.60" r="2.4" fill="#5c9fd9"/>
<circle cx="373.10" cy="398.10" r="2.4" fill="#5c9fd9"/>
<circle cx="382.30" cy="403.60" r="2.4" fill="#5c9fd9"/>
<circle cx="389.60" cy="401.70" r="2.4" fill="#5c9fd9"/>
<circle cx="408.60" cy="399.60" r="2.4" fill="#5c9fd9"/>
<circle cx="412.90" cy="406.50" r="2.4" fill="#5c9fd9"/>
<circle cx="409.00" cy="423.20" r="2.4" fill="#5c9fd9"/>
<circle cx="374.60" cy="410.00" r="2.4" fill="#5c9fd9"/>
<circle cx="328.50" cy="413.50" r="2.4" fill="#5c9fd9"/>
<circle cx="339.20" cy="415.80" r="2.4" fill="#5c9fd9"/>
<circle cx="347.00" cy="411.60" r="2.4" fill="#5c9fd9"/>
<circle cx="341.20" cy="419.60" r="2.4" fill="#5c9fd9"/>
<circle cx="347.30" cy="419.60" r="2.4" fill="#5c9fd9"/>
<circle cx="350.40" cy="417.30" r="2.4" fill="#5c9fd9"/>
<circle cx="351.90" cy="419.60" r="2.4" fill="#5c9fd9"/>
<circle cx="355.30" cy="421.20" r="2.4" fill="#5c9fd9"/>
<circle cx="345.00" cy="428.80" r="2.4" fill="#5c9fd9"/>
<circle cx="351.50" cy="429.30" r="2.4" fill="#5c9fd9"/>
<circle cx="361.50" cy="421.90" r="2.4" fill="#5c9fd9"/>
<circle cx="367.30" cy="422.40" r="2.4" fill="#5c9fd9"/>
<circle cx="365.00" cy="418.80" r="2.4" fill="#5c9fd9"/>
<circle cx="374.20" cy="410.40" r="2.4" fill="#5c9fd9"/>
<circle cx="376.50" cy="410.40" r="2.4" fill="#5c9fd9"/>
<circle cx="325.80" cy="457.30" r="2.4" fill="#5c9fd9"/>
<circle cx="399.90" cy="404.60" r="2.4" fill="#e0901f"/>
<circle cx="398.90" cy="362.60" r="2.4" fill="#e0901f"/>
<circle cx="408.20" cy="370.80" r="2.4" fill="#e0901f"/>
<circle cx="411.80" cy="374.30" r="2.4" fill="#e0901f"/>
<circle cx="373.20" cy="368.10" r="2.4" fill="#a5162e"/>
<circle cx="385.40" cy="370.50" r="2.4" fill="#a5162e"/>
<circle cx="400.30" cy="370.50" r="2.4" fill="#a5162e"/>
<circle cx="398.50" cy="374.60" r="2.4" fill="#a5162e"/>
<circle cx="422.30" cy="371.50" r="2.4" fill="#a5162e"/>
<circle cx="428.00" cy="371.50" r="2.4" fill="#a5162e"/>
<circle cx="396.90" cy="372.30" r="2.4" fill="#5a2466"/>
<circle cx="65.20" cy="588.90" r="2.4" fill="#5c9fd9"/>
<circle cx="68.80" cy="593.60" r="2.4" fill="#5c9fd9"/>
<circle cx="68.80" cy="599.20" r="2.4" fill="#5c9fd9"/>
<circle cx="86.30" cy="590.20" r="2.4" fill="#5c9fd9"/>
<circle cx="85.90" cy="598.10" r="2.4" fill="#5c9fd9"/>
<circle cx="84.00" cy="600.60" r="2.4" fill="#5c9fd9"/>
<circle cx="90.70" cy="598.80" r="2.4" fill="#5c9fd9"/>
<circle cx="79.10" cy="603.50" r="2.4" fill="#5c9fd9"/>
<circle cx="79.60" cy="612.70" r="2.4" fill="#5c9fd9"/>
<circle cx="89.40" cy="610.30" r="2.4" fill="#5c9fd9"/>
<circle cx="93.00" cy="612.00" r="2.4" fill="#5c9fd9"/>
<circle cx="94.60" cy="621.40" r="2.4" fill="#5c9fd9"/>
<circle cx="101.10" cy="595.90" r="2.4" fill="#5c9fd9"/>
<circle cx="106.90" cy="603.00" r="2.4" fill="#5c9fd9"/>
<circle cx="106.90" cy="609.10" r="2.4" fill="#5c9fd9"/>
<circle cx="101.50" cy="611.10" r="2.4" fill="#5c9fd9"/>
<circle cx="113.90" cy="604.30" r="2.4" fill="#5c9fd9"/>
<circle cx="115.90" cy="603.30" r="2.4" fill="#5c9fd9"/>
<circle cx="112.50" cy="616.50" r="2.4" fill="#5c9fd9"/>
<circle cx="121.50" cy="612.70" r="2.4" fill="#5c9fd9"/>
<circle cx="104.70" cy="636.50" r="2.4" fill="#5c9fd9"/>
<circle cx="147.60" cy="588.10" r="2.4" fill="#5c9fd9"/>
<circle cx="129.40" cy="609.80" r="2.4" fill="#5c9fd9"/>
<circle cx="148.10" cy="645.80" r="2.4" fill="#5c9fd9"/>
<circle cx="151.30" cy="653.10" r="2.4" fill="#5c9fd9"/>
<circle cx="139.20" cy="624.40" r="2.4" fill="#e0901f"/>
<circle cx="145.60" cy="654.70" r="2.4" fill="#e0901f"/>
<circle cx="137.40" cy="663.90" r="2.4" fill="#e0901f"/>
<circle cx="150.80" cy="688.90" r="2.4" fill="#e0901f"/>
<circle cx="136.30" cy="650.60" r="2.4" fill="#a5162e"/>
<circle cx="166.90" cy="663.90" r="2.4" fill="#a5162e"/>
<circle cx="112.60" cy="680.80" r="2.4" fill="#a5162e"/>
<circle cx="125.30" cy="684.80" r="2.4" fill="#a5162e"/>
<circle cx="138.40" cy="684.50" r="2.4" fill="#a5162e"/>
<circle cx="161.00" cy="694.20" r="2.4" fill="#a5162e"/>
<circle cx="137.40" cy="672.30" r="2.4" fill="#5a2466"/>
<circle cx="312.50" cy="592.30" r="2.4" fill="#5c9fd9"/>
<circle cx="350.40" cy="601.50" r="2.4" fill="#5c9fd9"/>
<circle cx="351.50" cy="604.40" r="2.4" fill="#5c9fd9"/>
<circle cx="360.60" cy="598.70" r="2.4" fill="#5c9fd9"/>
<circle cx="364.40" cy="593.30" r="2.4" fill="#5c9fd9"/>
<circle cx="360.00" cy="606.00" r="2.4" fill="#5c9fd9"/>
<circle cx="361.20" cy="610.80" r="2.4" fill="#5c9fd9"/>
<circle cx="363.80" cy="614.00" r="2.4" fill="#5c9fd9"/>
<circle cx="368.30" cy="605.40" r="2.4" fill="#5c9fd9"/>
<circle cx="368.30" cy="613.10" r="2.4" fill="#5c9fd9"/>
<circle cx="372.70" cy="596.70" r="2.4" fill="#5c9fd9"/>
<circle cx="372.10" cy="601.20" r="2.4" fill="#5c9fd9"/>
<circle cx="375.00" cy="601.20" r="2.4" fill="#5c9fd9"/>
<circle cx="376.90" cy="606.00" r="2.4" fill="#5c9fd9"/>
<circle cx="377.90" cy="607.30" r="2.4" fill="#5c9fd9"/>
<circle cx="385.60" cy="614.00" r="2.4" fill="#5c9fd9"/>
<circle cx="387.50" cy="613.10" r="2.4" fill="#5c9fd9"/>
<circle cx="391.90" cy="591.50" r="2.4" fill="#5c9fd9"/>
<circle cx="393.80" cy="618.80" r="2.4" fill="#5c9fd9"/>
<circle cx="361.50" cy="623.70" r="2.4" fill="#5c9fd9"/>
<circle cx="364.40" cy="638.50" r="2.4" fill="#5c9fd9"/>
<circle cx="358.70" cy="647.10" r="2.4" fill="#5c9fd9"/>
<circle cx="382.30" cy="654.00" r="2.4" fill="#5c9fd9"/>
<circle cx="402.50" cy="613.60" r="2.4" fill="#5c9fd9"/>
<circle cx="384.60" cy="626.20" r="2.4" fill="#e0901f"/>
<circle cx="432.20" cy="656.30" r="2.4" fill="#e0901f"/>
<circle cx="443.10" cy="664.70" r="2.4" fill="#e0901f"/>
<circle cx="426.70" cy="688.90" r="2.4" fill="#e0901f"/>
<circle cx="426.20" cy="651.70" r="2.4" fill="#a5162e"/>
<circle cx="431.30" cy="665.70" r="2.4" fill="#a5162e"/>
<circle cx="435.50" cy="681.10" r="2.4" fill="#a5162e"/>
<circle cx="431.90" cy="685.10" r="2.4" fill="#a5162e"/>
<circle cx="431.00" cy="694.00" r="2.4" fill="#a5162e"/>
<circle cx="429.10" cy="672.80" r="2.4" fill="#5a2466"/>
<line x1="83.00" y1="145.20" x2="175.20" y2="119.20" stroke="#233a6a" stroke-width="1.45" stroke-dasharray="4.8 3.1" stroke-dashoffset="2.8"/>
<line x1="345.00" y1="174.30" x2="438.75" y2="138.00" stroke="#233a6a" stroke-width="1.45" stroke-dasharray="4.8 3.1" stroke-dashoffset="3.3"/>
<line x1="83.00" y1="408.75" x2="177.00" y2="385.50" stroke="#233a6a" stroke-width="1.3" stroke-dasharray="4.8 3.1" stroke-dashoffset="0"/>
<line x1="326.25" y1="431.25" x2="429.50" y2="375.50" stroke="#2e4f8a" stroke-width="1.3" stroke-dasharray="4.8 3.1" stroke-dashoffset="0"/>
<line x1="63.75" y1="585.25" x2="168.00" y2="673.50" stroke="#2e4f8a" stroke-width="1.3" stroke-dasharray="4.8 3.1" stroke-dashoffset="0"/>
<line x1="310.00" y1="569.40" x2="443.50" y2="673.20" stroke="#2e4f8a" stroke-width="1.3" stroke-dasharray="4.8 3.1" stroke-dashoffset="0"/>
<text x="9.80" y="24.80" font-size="17.0" text-anchor="start" font-weight="bold" fill="#000" stroke="#000" stroke-width="0.6">A</text>
<text x="134.00" y="25.30" font-size="12.2" text-anchor="middle" fill="#1a1a1a" stroke="#1a1a1a" stroke-width="0.2">LSD1 vs ALAS2</text>
<text x="134.00" y="39.80" font-size="12.2" text-anchor="middle" fill="#1a1a1a" stroke="#1a1a1a" stroke-width="0.2">(Clinical sample)</text>
<text x="186.00" y="57.30" font-size="11" text-anchor="start" fill="#1a1a1a" stroke="#1a1a1a" stroke-width="0.2">R = 0.17</text>
<text x="186.00" y="71.20" font-size="11" text-anchor="start" fill="#1a1a1a" stroke="#1a1a1a" stroke-width="0.2">p = 0.0074</text>
<circle cx="193.50" cy="84.50" r="2.25" fill="#5c9fd9"/>
<text x="200.80" y="88.10" font-size="10.6" text-anchor="start" fill="#1a1a1a" stroke="#1a1a1a" stroke-width="0.2">M1-M5</text>
<circle cx="193.50" cy="101.30" r="2.25" fill="#a5162e"/>
<text x="200.80" y="104.90" font-size="10.6" text-anchor="start" fill="#1a1a1a" stroke="#1a1a1a" stroke-width="0.2">M6</text>
<circle cx="193.50" cy="118.30" r="2.25" fill="#e0901f"/>
<text x="200.80" y="121.90" font-size="10.6" text-anchor="start" fill="#1a1a1a" stroke="#1a1a1a" stroke-width="0.2">M7</text>
<text x="45.80" y="192.15" font-size="11" text-anchor="end" fill="#1a1a1a" stroke="#1a1a1a" stroke-width="0.2">0</text>
<text x="45.80" y="176.99" font-size="11" text-anchor="end" fill="#1a1a1a" stroke="#1a1a1a" stroke-width="0.2">2</text>
<text x="45.80" y="161.84" font-size="11" text-anchor="end" fill="#1a1a1a" stroke="#1a1a1a" stroke-width="0.2">4</text>
<text x="45.80" y="146.68" font-size="11" text-anchor="end" fill="#1a1a1a" stroke="#1a1a1a" stroke-width="0.2">6</text>
<text x="45.80" y="131.53" font-size="11" text-anchor="end" fill="#1a1a1a" stroke="#1a1a1a" stroke-width="0.2">8</text>
<text x="45.80" y="116.37" font-size="11" text-anchor="end" fill="#1a1a1a" stroke="#1a1a1a" stroke-width="0.2">10</text>
<text x="45.80" y="101.21" font-size="11" text-anchor="end" fill="#1a1a1a" stroke="#1a1a1a" stroke-width="0.2">12</text>
<text x="45.80" y="86.06" font-size="11" text-anchor="end" fill="#1a1a1a" stroke="#1a1a1a" stroke-width="0.2">14</text>
<text x="45.80" y="70.90" font-size="11" text-anchor="end" fill="#1a1a1a" stroke="#1a1a1a" stroke-width="0.2">16</text>
<text x="55.50" y="208.00" font-size="11" text-anchor="middle" fill="#1a1a1a" stroke="#1a1a1a" stroke-width="0.2">9</text>
<text x="102.50" y="208.00" font-size="11" text-anchor="middle" fill="#1a1a1a" stroke="#1a1a1a" stroke-width="0.2">10</text>
<text x="149.50" y="208.00" font-size="11" text-anchor="middle" fill="#1a1a1a" stroke="#1a1a1a" stroke-width="0.2">11</text>
<text x="197.00" y="208.00" font-size="11" text-anchor="middle" fill="#1a1a1a" stroke="#1a1a1a" stroke-width="0.2">12</text>
<text x="58.40" y="228.60" font-size="15.4" textLength="24.43" lengthAdjust="spacingAndGlyphs" fill="#111" stroke="#111" stroke-width="0.55">LSD1</text>
<text x="87.28" y="228.60" font-size="15.4" textLength="29.43" lengthAdjust="spacingAndGlyphs" fill="#111" stroke="#111" stroke-width="0.55">mRNA</text>
<text x="121.16" y="228.60" font-size="15.4" textLength="18.90" lengthAdjust="spacingAndGlyphs" fill="#111" stroke="#111" stroke-width="0.55">(log</text>
<text x="140.06" y="232.20" font-size="10.8" textLength="5.31" lengthAdjust="spacingAndGlyphs" fill="#111" stroke="#111" stroke-width="0.55">2</text>
<text x="145.37" y="228.60" font-size="15.4" textLength="47.93" lengthAdjust="spacingAndGlyphs" fill="#111" stroke="#111" stroke-width="0.55">(TPM+1))</text>
<g transform="translate(24.10,198.70) rotate(-90)"><text x="0.00" y="0.00" font-size="15.4" textLength="30.63" lengthAdjust="spacingAndGlyphs" fill="#111" stroke="#111" stroke-width="0.55">ALAS2</text><text x="35.11" y="0.00" font-size="15.4" textLength="29.64" lengthAdjust="spacingAndGlyphs" fill="#111" stroke="#111" stroke-width="0.55">mRNA</text><text x="69.23" y="0.00" font-size="15.4" textLength="19.04" lengthAdjust="spacingAndGlyphs" fill="#111" stroke="#111" stroke-width="0.55">(log</text><text x="88.27" y="3.60" font-size="10.8" textLength="5.35" lengthAdjust="spacingAndGlyphs" fill="#111" stroke="#111" stroke-width="0.55">2</text><text x="93.62" y="0.00" font-size="15.4" textLength="48.28" lengthAdjust="spacingAndGlyphs" fill="#111" stroke="#111" stroke-width="0.55">(TPM+1))</text></g>
<text x="266.80" y="24.80" font-size="17.0" text-anchor="start" font-weight="bold" fill="#000" stroke="#000" stroke-width="0.6">B</text>
<text x="395.00" y="25.00" font-size="12.2" text-anchor="middle" fill="#1a1a1a" stroke="#1a1a1a" stroke-width="0.2">LSD1 vs PKLR</text>
<text x="395.00" y="40.00" font-size="12.2" text-anchor="middle" fill="#1a1a1a" stroke="#1a1a1a" stroke-width="0.2">(Clinical sample)</text>
<text x="449.25" y="65.75" font-size="11" text-anchor="start" fill="#1a1a1a" stroke="#1a1a1a" stroke-width="0.2">R = 0.21</text>
<text x="449.25" y="79.50" font-size="11" text-anchor="start" fill="#1a1a1a" stroke="#1a1a1a" stroke-width="0.2">p = 0.00027</text>
<circle cx="460.00" cy="93.00" r="2.25" fill="#5c9fd9"/>
<text x="466.25" y="96.60" font-size="10.6" text-anchor="start" fill="#1a1a1a" stroke="#1a1a1a" stroke-width="0.2">M1-M5</text>
<circle cx="460.00" cy="109.25" r="2.25" fill="#a5162e"/>
<text x="466.25" y="112.85" font-size="10.6" text-anchor="start" fill="#1a1a1a" stroke="#1a1a1a" stroke-width="0.2">M6</text>
<circle cx="460.00" cy="125.75" r="2.25" fill="#e0901f"/>
<text x="466.25" y="129.35" font-size="10.6" text-anchor="start" fill="#1a1a1a" stroke="#1a1a1a" stroke-width="0.2">M7</text>
<text x="306.50" y="192.40" font-size="11" text-anchor="end" fill="#1a1a1a" stroke="#1a1a1a" stroke-width="0.2">0</text>
<text x="306.50" y="175.93" font-size="11" text-anchor="end" fill="#1a1a1a" stroke="#1a1a1a" stroke-width="0.2">2</text>
<text x="306.50" y="159.46" font-size="11" text-anchor="end" fill="#1a1a1a" stroke="#1a1a1a" stroke-width="0.2">4</text>
<text x="306.50" y="142.99" font-size="11" text-anchor="end" fill="#1a1a1a" stroke="#1a1a1a" stroke-width="0.2">6</text>
<text x="306.50" y="126.51" font-size="11" text-anchor="end" fill="#1a1a1a" stroke="#1a1a1a" stroke-width="0.2">8</text>
<text x="306.50" y="110.04" font-size="11" text-anchor="end" fill="#1a1a1a" stroke="#1a1a1a" stroke-width="0.2">10</text>
<text x="306.50" y="93.57" font-size="11" text-anchor="end" fill="#1a1a1a" stroke="#1a1a1a" stroke-width="0.2">12</text>
<text x="306.50" y="77.10" font-size="11" text-anchor="end" fill="#1a1a1a" stroke="#1a1a1a" stroke-width="0.2">14</text>
<text x="316.25" y="208.00" font-size="11" text-anchor="middle" fill="#1a1a1a" stroke="#1a1a1a" stroke-width="0.2">9</text>
<text x="364.50" y="208.00" font-size="11" text-anchor="middle" fill="#1a1a1a" stroke="#1a1a1a" stroke-width="0.2">10</text>
<text x="413.00" y="208.00" font-size="11" text-anchor="middle" fill="#1a1a1a" stroke="#1a1a1a" stroke-width="0.2">11</text>
<text x="462.00" y="208.00" font-size="11" text-anchor="middle" fill="#1a1a1a" stroke="#1a1a1a" stroke-width="0.2">12</text>
<text x="318.75" y="229.25" font-size="15.4" textLength="24.45" lengthAdjust="spacingAndGlyphs" fill="#111" stroke="#111" stroke-width="0.55">LSD1</text>
<text x="347.65" y="229.25" font-size="15.4" textLength="29.45" lengthAdjust="spacingAndGlyphs" fill="#111" stroke="#111" stroke-width="0.55">mRNA</text>
<text x="381.56" y="229.25" font-size="15.4" textLength="18.92" lengthAdjust="spacingAndGlyphs" fill="#111" stroke="#111" stroke-width="0.55">(log</text>
<text x="400.47" y="232.85" font-size="10.8" textLength="5.31" lengthAdjust="spacingAndGlyphs" fill="#111" stroke="#111" stroke-width="0.55">2</text>
<text x="405.78" y="229.25" font-size="15.4" textLength="47.97" lengthAdjust="spacingAndGlyphs" fill="#111" stroke="#111" stroke-width="0.55">(TPM+1))</text>
<g transform="translate(281.00,198.40) rotate(-90)"><text x="0.00" y="0.00" font-size="15.4" textLength="25.22" lengthAdjust="spacingAndGlyphs" fill="#111" stroke="#111" stroke-width="0.55">PKLR</text><text x="29.62" y="0.00" font-size="15.4" textLength="29.08" lengthAdjust="spacingAndGlyphs" fill="#111" stroke="#111" stroke-width="0.55">mRNA</text><text x="63.10" y="0.00" font-size="15.4" textLength="18.68" lengthAdjust="spacingAndGlyphs" fill="#111" stroke="#111" stroke-width="0.55">(log</text><text x="81.78" y="3.60" font-size="10.8" textLength="5.25" lengthAdjust="spacingAndGlyphs" fill="#111" stroke="#111" stroke-width="0.55">2</text><text x="87.03" y="0.00" font-size="15.4" textLength="47.37" lengthAdjust="spacingAndGlyphs" fill="#111" stroke="#111" stroke-width="0.55">(TPM+1))</text></g>
<text x="9.80" y="273.50" font-size="17.0" text-anchor="start" font-weight="bold" fill="#000" stroke="#000" stroke-width="0.6">C</text>
<text x="133.80" y="273.75" font-size="12.2" text-anchor="middle" fill="#1a1a1a" stroke="#1a1a1a" stroke-width="0.2">LSD1 vs GATA1</text>
<text x="133.80" y="288.75" font-size="12.2" text-anchor="middle" fill="#1a1a1a" stroke="#1a1a1a" stroke-width="0.2">(Clinical sample)</text>
<text x="187.50" y="323.00" font-size="11" text-anchor="start" fill="#1a1a1a" stroke="#1a1a1a" stroke-width="0.2">R= 0.19</text>
<text x="187.50" y="336.25" font-size="11" text-anchor="start" fill="#1a1a1a" stroke="#1a1a1a" stroke-width="0.2">p = 0.014</text>
<circle cx="192.50" cy="359.25" r="2.25" fill="#5c9fd9"/>
<text x="198.75" y="362.85" font-size="10.6" text-anchor="start" fill="#1a1a1a" stroke="#1a1a1a" stroke-width="0.2">M1-M5</text>
<circle cx="192.50" cy="376.25" r="2.25" fill="#a5162e"/>
<text x="198.75" y="379.85" font-size="10.6" text-anchor="start" fill="#1a1a1a" stroke="#1a1a1a" stroke-width="0.2">M6</text>
<circle cx="192.50" cy="393.25" r="2.25" fill="#e0901f"/>
<text x="198.75" y="396.85" font-size="10.6" text-anchor="start" fill="#1a1a1a" stroke="#1a1a1a" stroke-width="0.2">M7</text>
<text x="46.50" y="452.90" font-size="11" text-anchor="end" fill="#1a1a1a" stroke="#1a1a1a" stroke-width="0.2">0</text>
<text x="46.50" y="435.96" font-size="11" text-anchor="end" fill="#1a1a1a" stroke="#1a1a1a" stroke-width="0.2">2</text>
<text x="46.50" y="419.01" font-size="11" text-anchor="end" fill="#1a1a1a" stroke="#1a1a1a" stroke-width="0.2">4</text>
<text x="46.50" y="402.07" font-size="11" text-anchor="end" fill="#1a1a1a" stroke="#1a1a1a" stroke-width="0.2">6</text>
<text x="46.50" y="385.13" font-size="11" text-anchor="end" fill="#1a1a1a" stroke="#1a1a1a" stroke-width="0.2">8</text>
<text x="46.50" y="368.19" font-size="11" text-anchor="end" fill="#1a1a1a" stroke="#1a1a1a" stroke-width="0.2">10</text>
<text x="46.50" y="351.24" font-size="11" text-anchor="end" fill="#1a1a1a" stroke="#1a1a1a" stroke-width="0.2">12</text>
<text x="46.50" y="334.30" font-size="11" text-anchor="end" fill="#1a1a1a" stroke="#1a1a1a" stroke-width="0.2">14</text>
<text x="55.50" y="468.00" font-size="11" text-anchor="middle" fill="#1a1a1a" stroke="#1a1a1a" stroke-width="0.2">9</text>
<text x="102.50" y="468.00" font-size="11" text-anchor="middle" fill="#1a1a1a" stroke="#1a1a1a" stroke-width="0.2">10</text>
<text x="149.00" y="468.00" font-size="11" text-anchor="middle" fill="#1a1a1a" stroke="#1a1a1a" stroke-width="0.2">11</text>
<text x="197.00" y="468.00" font-size="11" text-anchor="middle" fill="#1a1a1a" stroke="#1a1a1a" stroke-width="0.2">12</text>
<text x="58.00" y="488.75" font-size="15.4" textLength="24.45" lengthAdjust="spacingAndGlyphs" fill="#111" stroke="#111" stroke-width="0.55">LSD1</text>
<text x="86.90" y="488.75" font-size="15.4" textLength="29.45" lengthAdjust="spacingAndGlyphs" fill="#111" stroke="#111" stroke-width="0.55">mRNA</text>
<text x="120.81" y="488.75" font-size="15.4" textLength="18.92" lengthAdjust="spacingAndGlyphs" fill="#111" stroke="#111" stroke-width="0.55">(log</text>
<text x="139.72" y="492.35" font-size="10.8" textLength="5.31" lengthAdjust="spacingAndGlyphs" fill="#111" stroke="#111" stroke-width="0.55">2</text>
<text x="145.03" y="488.75" font-size="15.4" textLength="47.97" lengthAdjust="spacingAndGlyphs" fill="#111" stroke="#111" stroke-width="0.55">(TPM+1))</text>
<g transform="translate(23.80,461.10) rotate(-90)"><text x="0.00" y="0.00" font-size="15.4" textLength="31.06" lengthAdjust="spacingAndGlyphs" fill="#111" stroke="#111" stroke-width="0.55">GATA1</text><text x="35.38" y="0.00" font-size="15.4" textLength="28.54" lengthAdjust="spacingAndGlyphs" fill="#111" stroke="#111" stroke-width="0.55">mRNA</text><text x="68.23" y="0.00" font-size="15.4" textLength="18.33" lengthAdjust="spacingAndGlyphs" fill="#111" stroke="#111" stroke-width="0.55">(log</text><text x="86.57" y="3.60" font-size="10.8" textLength="5.15" lengthAdjust="spacingAndGlyphs" fill="#111" stroke="#111" stroke-width="0.55">2</text><text x="91.71" y="0.00" font-size="15.4" textLength="46.49" lengthAdjust="spacingAndGlyphs" fill="#111" stroke="#111" stroke-width="0.55">(TPM+1))</text></g>
<text x="263.20" y="273.50" font-size="17.0" text-anchor="start" font-weight="bold" fill="#000" stroke="#000" stroke-width="0.6">D</text>
<text x="407.80" y="273.75" font-size="12.2" text-anchor="middle" fill="#1a1a1a" stroke="#1a1a1a" stroke-width="0.2">LSD1 vs GATA1</text>
<text x="407.80" y="288.75" font-size="12.2" text-anchor="middle" fill="#1a1a1a" stroke="#1a1a1a" stroke-width="0.2">(Cell line)</text>
<text x="446.25" y="305.50" font-size="11" text-anchor="start" fill="#1a1a1a" stroke="#1a1a1a" stroke-width="0.2">R = 0.71</text>
<text x="446.25" y="319.50" font-size="11" fill="#1a1a1a" stroke="#1a1a1a" stroke-width="0.2">p = 7.8×10<tspan font-size="7.5" dy="-4.5">-7</tspan></text>
<circle cx="457.50" cy="332.50" r="2.25" fill="#5c9fd9"/>
<text x="465.00" y="336.10" font-size="10.6" text-anchor="start" fill="#1a1a1a" stroke="#1a1a1a" stroke-width="0.2">M2-M5</text>
<circle cx="457.50" cy="350.00" r="2.25" fill="#a5162e"/>
<text x="465.00" y="353.60" font-size="10.6" text-anchor="start" fill="#1a1a1a" stroke="#1a1a1a" stroke-width="0.2">M6</text>
<circle cx="457.50" cy="366.25" r="2.25" fill="#e0901f"/>
<text x="465.00" y="369.85" font-size="10.6" text-anchor="start" fill="#1a1a1a" stroke="#1a1a1a" stroke-width="0.2">M7</text>
<circle cx="457.50" cy="383.25" r="2.25" fill="#5a2466"/>
<text x="465.00" y="386.85" font-size="10.6" text-anchor="start" fill="#1a1a1a" stroke="#1a1a1a" stroke-width="0.2">CML</text>
<text x="306.50" y="340.45" font-size="11" text-anchor="end" fill="#1a1a1a" stroke="#1a1a1a" stroke-width="0.2">15</text>
<text x="306.50" y="362.10" font-size="11" text-anchor="end" fill="#1a1a1a" stroke="#1a1a1a" stroke-width="0.2">10</text>
<text x="306.50" y="383.75" font-size="11" text-anchor="end" fill="#1a1a1a" stroke="#1a1a1a" stroke-width="0.2">5</text>
<text x="306.50" y="405.40" font-size="11" text-anchor="end" fill="#1a1a1a" stroke="#1a1a1a" stroke-width="0.2">0</text>
<text x="306.50" y="427.05" font-size="11" text-anchor="end" fill="#1a1a1a" stroke="#1a1a1a" stroke-width="0.2">-5</text>
<text x="306.50" y="448.70" font-size="11" text-anchor="end" fill="#1a1a1a" stroke="#1a1a1a" stroke-width="0.2">-10</text>
<text x="306.50" y="470.35" font-size="11" text-anchor="end" fill="#1a1a1a" stroke="#1a1a1a" stroke-width="0.2">-15</text>
<text x="325.75" y="420.00" font-size="11" text-anchor="middle" fill="#1a1a1a" stroke="#1a1a1a" stroke-width="0.2">4.5</text>
<text x="366.50" y="420.00" font-size="11" text-anchor="middle" fill="#1a1a1a" stroke="#1a1a1a" stroke-width="0.2">5.5</text>
<text x="417.10" y="420.00" font-size="11" text-anchor="middle" fill="#1a1a1a" stroke="#1a1a1a" stroke-width="0.2">6.5</text>
<text x="467.90" y="420.00" font-size="11" text-anchor="middle" fill="#1a1a1a" stroke="#1a1a1a" stroke-width="0.2">7.5</text>
<text x="334.50" y="488.75" font-size="15.4" textLength="24.35" lengthAdjust="spacingAndGlyphs" fill="#111" stroke="#111" stroke-width="0.55">LSD1</text>
<text x="363.29" y="488.75" font-size="15.4" textLength="29.33" lengthAdjust="spacingAndGlyphs" fill="#111" stroke="#111" stroke-width="0.55">mRNA</text>
<text x="397.05" y="488.75" font-size="15.4" textLength="18.84" lengthAdjust="spacingAndGlyphs" fill="#111" stroke="#111" stroke-width="0.55">(log</text>
<text x="415.88" y="492.35" font-size="10.8" textLength="5.29" lengthAdjust="spacingAndGlyphs" fill="#111" stroke="#111" stroke-width="0.55">2</text>
<text x="421.18" y="488.75" font-size="15.4" textLength="31.82" lengthAdjust="spacingAndGlyphs" fill="#111" stroke="#111" stroke-width="0.55">FPKM)</text>
<g transform="translate(276.60,464.40) rotate(-90)"><text x="0.00" y="0.00" font-size="15.4" textLength="31.75" lengthAdjust="spacingAndGlyphs" fill="#111" stroke="#111" stroke-width="0.55">GATA1</text><text x="36.16" y="0.00" font-size="15.4" textLength="29.17" lengthAdjust="spacingAndGlyphs" fill="#111" stroke="#111" stroke-width="0.55">mRNA</text><text x="69.74" y="0.00" font-size="15.4" textLength="18.74" lengthAdjust="spacingAndGlyphs" fill="#111" stroke="#111" stroke-width="0.55">(log</text><text x="88.48" y="3.60" font-size="10.8" textLength="5.26" lengthAdjust="spacingAndGlyphs" fill="#111" stroke="#111" stroke-width="0.55">2</text><text x="93.74" y="0.00" font-size="15.4" textLength="31.66" lengthAdjust="spacingAndGlyphs" fill="#111" stroke="#111" stroke-width="0.55">FPKM)</text></g>
<text x="10.40" y="533.80" font-size="17.0" text-anchor="start" font-weight="bold" fill="#000" stroke="#000" stroke-width="0.6">E</text>
<text x="130.80" y="534.00" font-size="12.2" text-anchor="middle" fill="#1a1a1a" stroke="#1a1a1a" stroke-width="0.2">LSD1 vs CEBPA</text>
<text x="130.80" y="549.00" font-size="12.2" text-anchor="middle" fill="#1a1a1a" stroke="#1a1a1a" stroke-width="0.2">(Cell line)</text>
<text x="180.00" y="566.50" font-size="11" text-anchor="start" fill="#1a1a1a" stroke="#1a1a1a" stroke-width="0.2">R = -0.71</text>
<text x="180.00" y="579.75" font-size="11" fill="#1a1a1a" stroke="#1a1a1a" stroke-width="0.2">p = 7.4×10<tspan font-size="7.5" dy="-4.5">-7</tspan></text>
<circle cx="192.00" cy="593.50" r="2.25" fill="#5c9fd9"/>
<text x="198.75" y="597.10" font-size="10.6" text-anchor="start" fill="#1a1a1a" stroke="#1a1a1a" stroke-width="0.2">M2-M5</text>
<circle cx="192.00" cy="610.25" r="2.25" fill="#a5162e"/>
<text x="198.75" y="613.85" font-size="10.6" text-anchor="start" fill="#1a1a1a" stroke="#1a1a1a" stroke-width="0.2">M6</text>
<circle cx="192.00" cy="627.00" r="2.25" fill="#e0901f"/>
<text x="198.75" y="630.60" font-size="10.6" text-anchor="start" fill="#1a1a1a" stroke="#1a1a1a" stroke-width="0.2">M7</text>
<circle cx="192.00" cy="643.50" r="2.25" fill="#5a2466"/>
<text x="198.75" y="647.10" font-size="10.6" text-anchor="start" fill="#1a1a1a" stroke="#1a1a1a" stroke-width="0.2">CML</text>
<text x="46.50" y="577.40" font-size="11" text-anchor="end" fill="#1a1a1a" stroke="#1a1a1a" stroke-width="0.2">10</text>
<text x="46.50" y="596.00" font-size="11" text-anchor="end" fill="#1a1a1a" stroke="#1a1a1a" stroke-width="0.2">8</text>
<text x="46.50" y="614.60" font-size="11" text-anchor="end" fill="#1a1a1a" stroke="#1a1a1a" stroke-width="0.2">6</text>
<text x="46.50" y="633.20" font-size="11" text-anchor="end" fill="#1a1a1a" stroke="#1a1a1a" stroke-width="0.2">4</text>
<text x="46.50" y="651.80" font-size="11" text-anchor="end" fill="#1a1a1a" stroke="#1a1a1a" stroke-width="0.2">2</text>
<text x="46.50" y="670.40" font-size="11" text-anchor="end" fill="#1a1a1a" stroke="#1a1a1a" stroke-width="0.2">0</text>
<text x="46.50" y="689.00" font-size="11" text-anchor="end" fill="#1a1a1a" stroke="#1a1a1a" stroke-width="0.2">-2</text>
<text x="46.50" y="707.60" font-size="11" text-anchor="end" fill="#1a1a1a" stroke="#1a1a1a" stroke-width="0.2">-4</text>
<text x="65.90" y="685.75" font-size="11" text-anchor="middle" fill="#1a1a1a" stroke="#1a1a1a" stroke-width="0.2">4.5</text>
<text x="106.40" y="685.75" font-size="11" text-anchor="middle" fill="#1a1a1a" stroke="#1a1a1a" stroke-width="0.2">5.5</text>
<text x="157.10" y="685.75" font-size="11" text-anchor="middle" fill="#1a1a1a" stroke="#1a1a1a" stroke-width="0.2">6.5</text>
<text x="207.90" y="685.75" font-size="11" text-anchor="middle" fill="#1a1a1a" stroke="#1a1a1a" stroke-width="0.2">7.5</text>
<text x="73.75" y="726.00" font-size="15.4" textLength="24.51" lengthAdjust="spacingAndGlyphs" fill="#111" stroke="#111" stroke-width="0.55">LSD1</text>
<text x="102.72" y="726.00" font-size="15.4" textLength="29.51" lengthAdjust="spacingAndGlyphs" fill="#111" stroke="#111" stroke-width="0.55">mRNA</text>
<text x="136.69" y="726.00" font-size="15.4" textLength="18.96" lengthAdjust="spacingAndGlyphs" fill="#111" stroke="#111" stroke-width="0.55">(log</text>
<text x="155.65" y="729.60" font-size="10.8" textLength="5.32" lengthAdjust="spacingAndGlyphs" fill="#111" stroke="#111" stroke-width="0.55">2</text>
<text x="160.97" y="726.00" font-size="15.4" textLength="32.03" lengthAdjust="spacingAndGlyphs" fill="#111" stroke="#111" stroke-width="0.55">FPKM)</text>
<g transform="translate(24.20,702.30) rotate(-90)"><text x="0.00" y="0.00" font-size="15.4" textLength="33.12" lengthAdjust="spacingAndGlyphs" fill="#111" stroke="#111" stroke-width="0.55">CEBPA</text><text x="37.57" y="0.00" font-size="15.4" textLength="29.43" lengthAdjust="spacingAndGlyphs" fill="#111" stroke="#111" stroke-width="0.55">mRNA</text><text x="71.45" y="0.00" font-size="15.4" textLength="18.91" lengthAdjust="spacingAndGlyphs" fill="#111" stroke="#111" stroke-width="0.55">(log</text><text x="90.35" y="3.60" font-size="10.8" textLength="5.31" lengthAdjust="spacingAndGlyphs" fill="#111" stroke="#111" stroke-width="0.55">2</text><text x="95.66" y="0.00" font-size="15.4" textLength="31.94" lengthAdjust="spacingAndGlyphs" fill="#111" stroke="#111" stroke-width="0.55">FPKM)</text></g>
<text x="270.40" y="533.80" font-size="17.0" text-anchor="start" font-weight="bold" fill="#000" stroke="#000" stroke-width="0.6">F</text>
<text x="391.00" y="534.00" font-size="12.2" text-anchor="middle" fill="#1a1a1a" stroke="#1a1a1a" stroke-width="0.2">GATA1 vs CEBPA</text>
<text x="391.00" y="549.00" font-size="12.2" text-anchor="middle" fill="#1a1a1a" stroke="#1a1a1a" stroke-width="0.2">(Cell line)</text>
<text x="434.50" y="566.50" font-size="11" text-anchor="start" fill="#1a1a1a" stroke="#1a1a1a" stroke-width="0.2">R = -0.82</text>
<text x="434.50" y="579.75" font-size="11" fill="#1a1a1a" stroke="#1a1a1a" stroke-width="0.2">p = 6.0×10<tspan font-size="7.5" dy="-4.5">-10</tspan></text>
<circle cx="450.50" cy="593.50" r="2.25" fill="#5c9fd9"/>
<text x="457.50" y="597.10" font-size="10.6" text-anchor="start" fill="#1a1a1a" stroke="#1a1a1a" stroke-width="0.2">M2-M5</text>
<circle cx="450.50" cy="609.75" r="2.25" fill="#a5162e"/>
<text x="457.50" y="613.35" font-size="10.6" text-anchor="start" fill="#1a1a1a" stroke="#1a1a1a" stroke-width="0.2">M6</text>
<circle cx="450.50" cy="626.50" r="2.25" fill="#e0901f"/>
<text x="457.50" y="630.10" font-size="10.6" text-anchor="start" fill="#1a1a1a" stroke="#1a1a1a" stroke-width="0.2">M7</text>
<circle cx="450.50" cy="644.00" r="2.25" fill="#5a2466"/>
<text x="457.50" y="647.60" font-size="10.6" text-anchor="start" fill="#1a1a1a" stroke="#1a1a1a" stroke-width="0.2">CML</text>
<text x="380.50" y="580.40" font-size="11" text-anchor="end" fill="#1a1a1a" stroke="#1a1a1a" stroke-width="0.2">10</text>
<text x="380.50" y="598.60" font-size="11" text-anchor="end" fill="#1a1a1a" stroke="#1a1a1a" stroke-width="0.2">8</text>
<text x="380.50" y="616.80" font-size="11" text-anchor="end" fill="#1a1a1a" stroke="#1a1a1a" stroke-width="0.2">6</text>
<text x="380.50" y="635.00" font-size="11" text-anchor="end" fill="#1a1a1a" stroke="#1a1a1a" stroke-width="0.2">4</text>
<text x="380.50" y="653.20" font-size="11" text-anchor="end" fill="#1a1a1a" stroke="#1a1a1a" stroke-width="0.2">2</text>
<text x="380.50" y="689.60" font-size="11" text-anchor="end" fill="#1a1a1a" stroke="#1a1a1a" stroke-width="0.2">-2</text>
<text x="380.50" y="707.80" font-size="11" text-anchor="end" fill="#1a1a1a" stroke="#1a1a1a" stroke-width="0.2">-4</text>
<text x="380.50" y="677.75" font-size="11" text-anchor="end" fill="#1a1a1a" stroke="#1a1a1a" stroke-width="0.2">0</text>
<text x="300.90" y="686.50" font-size="11" text-anchor="middle" fill="#1a1a1a" stroke="#1a1a1a" stroke-width="0.2">-15</text>
<text x="360.60" y="686.50" font-size="11" text-anchor="middle" fill="#1a1a1a" stroke="#1a1a1a" stroke-width="0.2">-5</text>
<text x="419.60" y="686.50" font-size="11" text-anchor="middle" fill="#1a1a1a" stroke="#1a1a1a" stroke-width="0.2">5</text>
<text x="311.25" y="726.00" font-size="15.4" textLength="31.33" lengthAdjust="spacingAndGlyphs" fill="#111" stroke="#111" stroke-width="0.55">GATA1</text>
<text x="346.93" y="726.00" font-size="15.4" textLength="28.79" lengthAdjust="spacingAndGlyphs" fill="#111" stroke="#111" stroke-width="0.55">mRNA</text>
<text x="380.07" y="726.00" font-size="15.4" textLength="18.49" lengthAdjust="spacingAndGlyphs" fill="#111" stroke="#111" stroke-width="0.55">(log</text>
<text x="398.57" y="729.60" font-size="10.8" textLength="5.19" lengthAdjust="spacingAndGlyphs" fill="#111" stroke="#111" stroke-width="0.55">2</text>
<text x="403.76" y="726.00" font-size="15.4" textLength="31.24" lengthAdjust="spacingAndGlyphs" fill="#111" stroke="#111" stroke-width="0.55">FPKM)</text>
<g transform="translate(284.00,685.20) rotate(-90)"><text x="0.00" y="0.00" font-size="15.4" textLength="32.96" lengthAdjust="spacingAndGlyphs" fill="#111" stroke="#111" stroke-width="0.55">CEBPA</text><text x="37.39" y="0.00" font-size="15.4" textLength="29.29" lengthAdjust="spacingAndGlyphs" fill="#111" stroke="#111" stroke-width="0.55">mRNA</text><text x="71.11" y="0.00" font-size="15.4" textLength="18.82" lengthAdjust="spacingAndGlyphs" fill="#111" stroke="#111" stroke-width="0.55">(log</text><text x="89.93" y="3.60" font-size="10.8" textLength="5.28" lengthAdjust="spacingAndGlyphs" fill="#111" stroke="#111" stroke-width="0.55">2</text><text x="95.21" y="0.00" font-size="15.4" textLength="31.79" lengthAdjust="spacingAndGlyphs" fill="#111" stroke="#111" stroke-width="0.55">FPKM)</text></g>
<text x="407.1" y="359.3" font-size="10.4" textLength="20.8" lengthAdjust="spacingAndGlyphs" fill="#1a1a1a">HEL</text>
<text x="377.3" y="389.2" font-size="10.4" textLength="16.0" lengthAdjust="spacingAndGlyphs" fill="#1a1a1a">TF1</text>
<text x="107.4" y="651" font-size="10.4" textLength="16.0" lengthAdjust="spacingAndGlyphs" fill="#1a1a1a">TF1</text>
<text x="113.65" y="706.6" font-size="10.4" textLength="20.8" lengthAdjust="spacingAndGlyphs" fill="#1a1a1a">HEL</text>
<text x="411.3" y="632.7" font-size="10.4" textLength="16.2" lengthAdjust="spacingAndGlyphs" fill="#1a1a1a">TF1</text>
<text x="441.25" y="711" font-size="10.4" textLength="20.8" lengthAdjust="spacingAndGlyphs" fill="#1a1a1a">HEL</text>
<rect x="0" y="0" width="520" height="1.8" fill="#000"/><rect x="0" y="0" width="1.8" height="744" fill="#000"/><rect x="517.7" y="0" width="2.3" height="744" fill="#000"/><rect x="0" y="741.8" width="520" height="2.2" fill="#000"/>
</svg></body></html>
